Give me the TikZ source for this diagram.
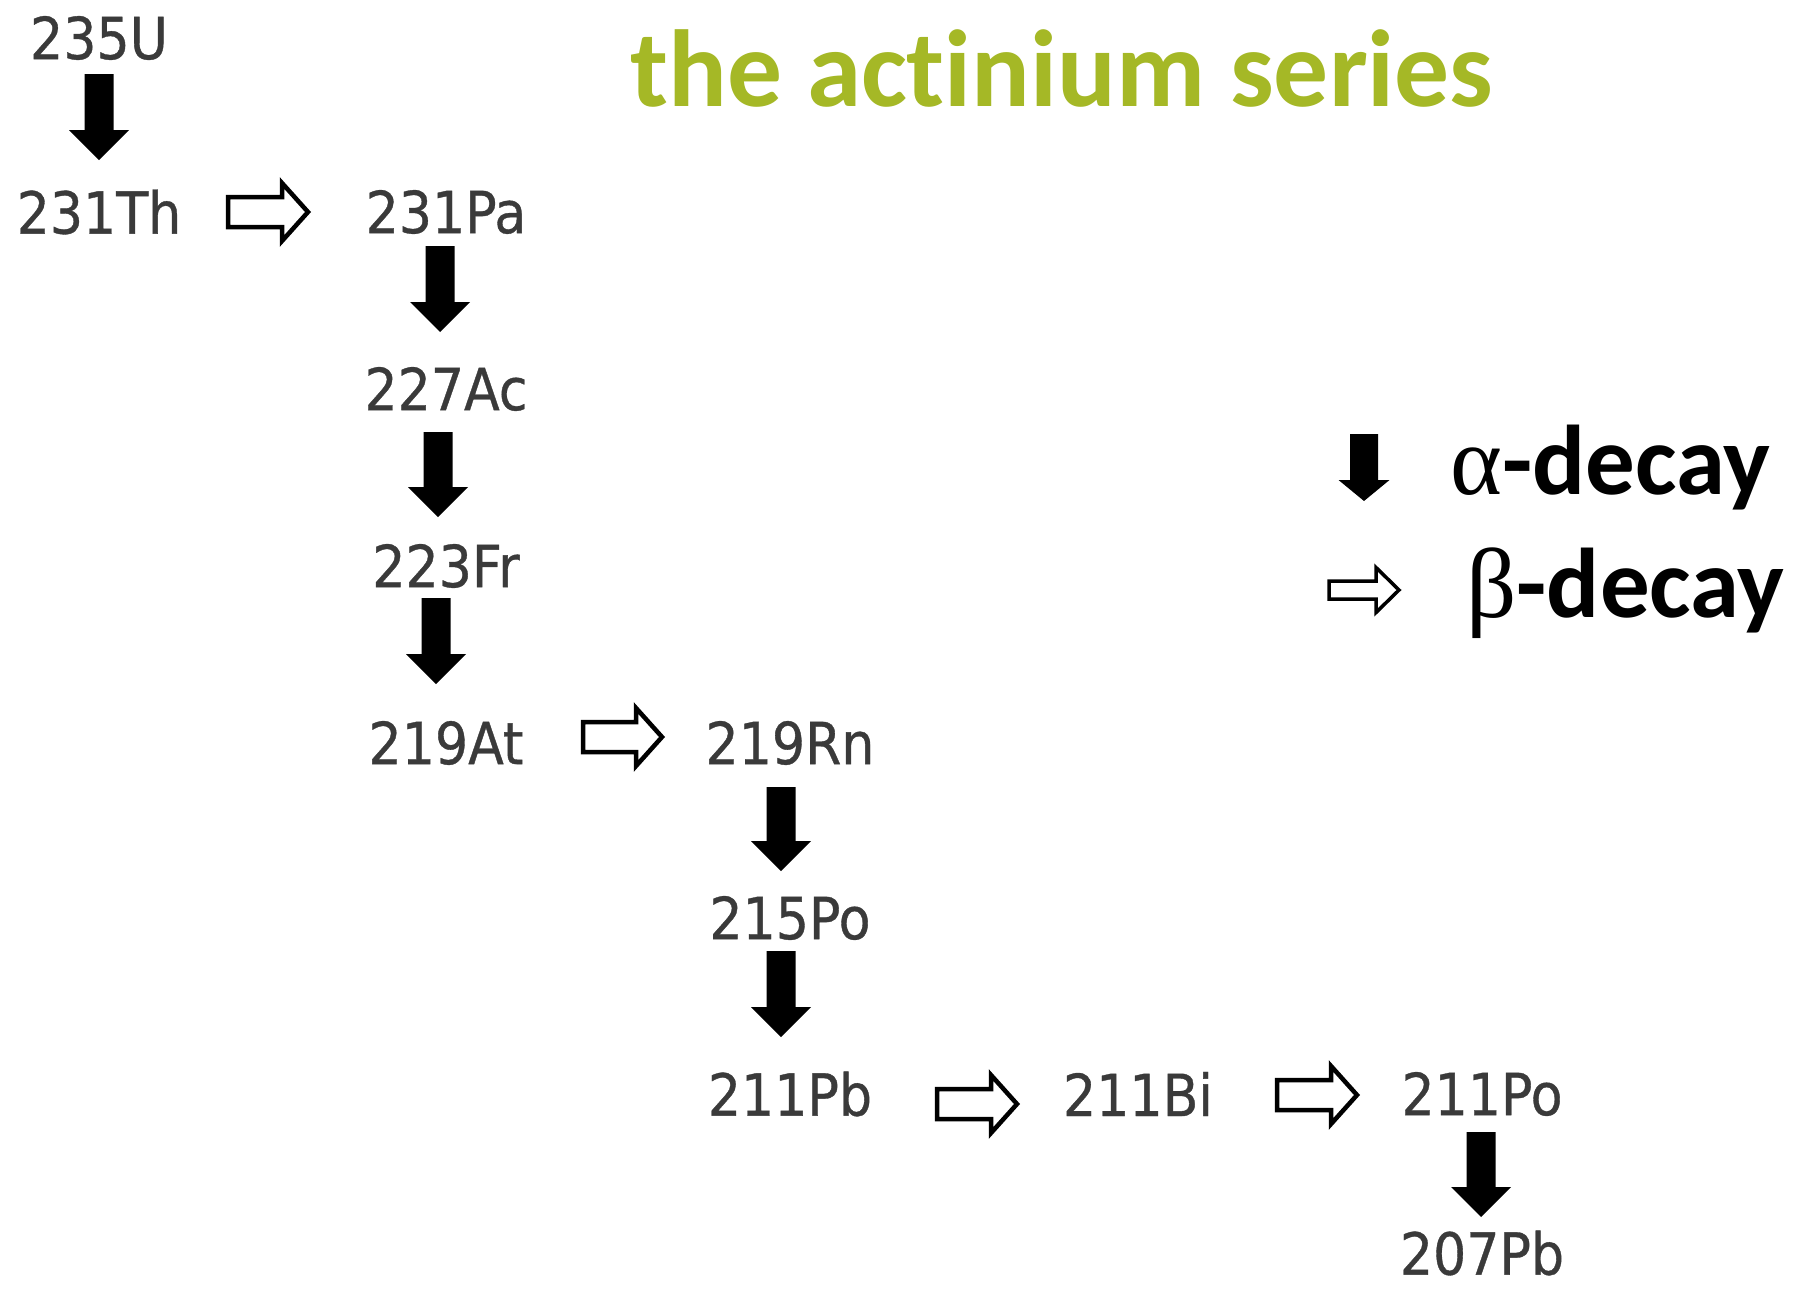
\documentclass[tikz,border=0pt]{standalone}
\usepackage{fontspec}
\usetikzlibrary{calc}
\newfontfamily\nucfont[FakeStretch=0.9,FakeBold=0.6]{DejaVu Sans}
\newfontfamily\titlefont[Ligatures={NoCommon}]{Carlito}
\newfontfamily\greekfont{Liberation Serif}
\definecolor{titlegreen}{RGB}{165,184,38}
\definecolor{nucgray}{RGB}{58,58,58}
\begin{document}
\begin{tikzpicture}[x=1pt,y=-1pt,
  nuc/.style={font=\nucfont\fontsize{58}{60}\selectfont, text=nucgray, inner sep=0pt, anchor=center},
  titlestyle/.style={font=\titlefont\bfseries\fontsize{109.5}{112}\selectfont, text=titlegreen, inner sep=0pt, anchor=base},
  legtext/.style={font=\titlefont\bfseries\fontsize{99}{104}\selectfont, text=black, inner sep=0pt, anchor=base west},
  alphaarr/.style={fill=black, draw=none,
    to path={let \p1=(\tikztostart), \p2=(\tikztotarget) in
      (\x1-14.5pt,\y1) -- (\x1+14.5pt,\y1) -- (\x1+14.5pt,\y2+30pt) -- (\x1+30pt,\y2+30pt)
      -- (\x1,\y2) -- (\x1-30pt,\y2+30pt) -- (\x1-14.5pt,\y2+30pt) -- cycle}},
  alphaleg/.style={fill=black, draw=none,
    to path={let \p1=(\tikztostart), \p2=(\tikztotarget) in
      (\x1-14pt,\y1) -- (\x1+14pt,\y1) -- (\x1+14pt,\y2+21pt) -- (\x1+25.5pt,\y2+21pt)
      -- (\x1,\y2) -- (\x1-25.5pt,\y2+21pt) -- (\x1-14pt,\y2+21pt) -- cycle}},
  betaarr/.style={draw=black, fill=white, line width=4.5pt, line join=miter,
    to path={let \p1=(\tikztostart), \p2=(\tikztotarget) in
      (\x1+2pt,\y1+15pt) -- (\x2-30pt,\y1+15pt) -- (\x2-30pt,\y1+29pt) -- (\x2-4pt,\y1)
      -- (\x2-30pt,\y1-29pt) -- (\x2-30pt,\y1-15pt) -- (\x1+2pt,\y1-15pt) -- cycle}},
  betaleg/.style={draw=black, fill=white, line width=3.5pt, line join=miter,
    to path={let \p1=(\tikztostart), \p2=(\tikztotarget) in
      (\x1+2pt,\y1+9pt) -- (\x2-26pt,\y1+9pt) -- (\x2-26pt,\y1+22.5pt) -- (\x2-3pt,\y1)
      -- (\x2-26pt,\y1-22.5pt) -- (\x2-26pt,\y1-9pt) -- (\x1+2pt,\y1-9pt) -- cycle}}
]
\fill[white] (0,0) rectangle (1793,1293);
\useasboundingbox (0,0) rectangle (1793,1293);

% title
\node[titlestyle] (title) at (1062,106) {the actinium series};

% nuclides
\node[nuc] (u235)  at (99,38)    {235U};
\node[nuc] (th231) at (99,212)   {231Th};
\node[nuc] (pa231) at (446,212)  {231Pa};
\node[nuc] (ac227) at (446,389)  {227Ac};
\node[nuc] (fr223) at (446,566)  {223Fr};
\node[nuc] (at219) at (446,743)  {219At};
\node[nuc] (rn219) at (790,743)  {219Rn};
\node[nuc] (po215) at (790,918)  {215Po};
\node[nuc] (pb211) at (790,1094) {211Pb};
\node[nuc] (bi211) at (1138,1094){211Bi};
\node[nuc] (po211) at (1482,1094){211Po};
\node[nuc] (pb207) at (1482,1253){207Pb};

% alpha decays
\draw[alphaarr] ($(u235)+(0,36)$)  to ($(th231)+(0,-52)$);
\draw[alphaarr] ($(pa231)+(-6,34)$) to ($(ac227)+(-6,-57)$);
\draw[alphaarr] ($(ac227)+(-8,43)$) to ($(fr223)+(-8,-49)$);
\draw[alphaarr] ($(fr223)+(-10,32)$) to ($(at219)+(-10,-59)$);
\draw[alphaarr] ($(rn219)+(-9,44)$) to ($(po215)+(-9,-47)$);
\draw[alphaarr] ($(po215)+(-9,33)$) to ($(pb211)+(-9,-57)$);
\draw[alphaarr] ($(po211)+(-1,38)$) to ($(pb207)+(-1,-36)$);

% beta decays
\draw[betaarr] ($(th231)+(127,0)$) to ($(pa231)+(-134,0)$);
\draw[betaarr] ($(at219)+(135,-6)$) to ($(rn219)+(-124,-6)$);
\draw[betaarr] ($(pb211)+(145,10)$) to ($(bi211)+(-117,10)$);
\draw[betaarr] ($(bi211)+(137,1)$) to ($(po211)+(-121,1)$);

% legend
\coordinate (la1) at (1364,434);
\coordinate (la2) at (1364,501);
\coordinate (lb1) at (1327,590);
\coordinate (lb2) at (1402,590);
\draw[alphaleg] (la1) to (la2);
\draw[betaleg] (lb1) to (lb2);
\node[legtext] (alphatxt) at (1450,494) {{\greekfont\mdseries α}-decay};
\node[legtext] (betatxt)  at (1466,617) {{\greekfont\mdseries β}-decay};
\end{tikzpicture}
\end{document}
